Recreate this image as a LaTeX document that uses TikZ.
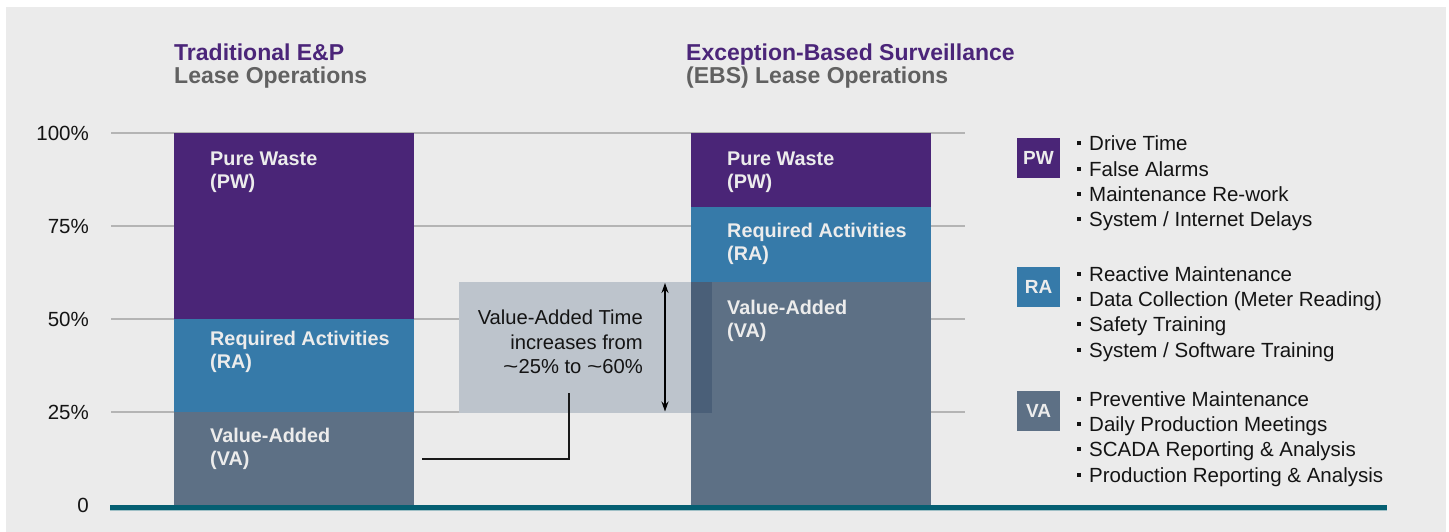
\documentclass[tikz,border=0pt]{standalone}
\usepackage{fontspec}
\setmainfont{Liberation Sans}
\usetikzlibrary{arrows.meta}
\definecolor{bgc}{HTML}{EBEBEB}
\definecolor{pwc}{HTML}{4A2577}
\definecolor{rac}{HTML}{367AA9}
\definecolor{vac}{HTML}{5D7085}
\definecolor{boxc}{HTML}{BDC4CC}
\definecolor{overc}{HTML}{4A5F78}
\definecolor{tealc}{HTML}{055F72}
\definecolor{tealpale}{HTML}{9FC0C6}
\definecolor{gridc}{HTML}{B4B4B4}
\definecolor{titp}{HTML}{4B2579}
\definecolor{titg}{HTML}{616161}
\definecolor{lblc}{HTML}{ECECEC}
\definecolor{txtc}{HTML}{141414}
\newcommand\blt{\rule[5.5pt]{4pt}{4pt}\hspace{8pt}}
\newcommand\wtilde{\scalebox{1.3}[1]{\textasciitilde}}
\tikzset{
  gridline/.style={draw=gridc, line width=1.5pt},
  titlelbl/.style={anchor=base west, align=left, inner sep=0pt, font=\bfseries\fontsize{23}{23.3}\selectfont},
  barlbl/.style={anchor=base west, align=left, inner sep=0pt, text=lblc, font=\bfseries\fontsize{19.8}{23.5}\selectfont},
  axislbl/.style={anchor=base east, inner sep=0pt, text=txtc, font=\fontsize{20.5}{22}\selectfont},
  legbox/.style={minimum width=43pt, minimum height=40pt, inner sep=0pt, text=lblc, font=\bfseries\fontsize{19}{20}\selectfont},
  leglist/.style={anchor=base west, align=left, inner sep=0pt, text=txtc, font=\fontsize{20.5}{25.3}\selectfont},
  boxtxt/.style={anchor=base east, align=right, inner sep=0pt, text=txtc, font=\fontsize{20.2}{24.3}\selectfont},
  connector/.style={draw=black!90, line width=2pt},
  dblarrow/.style={draw=black, line width=1.3pt, {Stealth[length=10pt,width=7pt]}-{Stealth[length=10pt,width=7pt]}}
}
\begin{document}
\begin{tikzpicture}[x=1pt,y=-1pt]
\useasboundingbox (0,0) rectangle (1449,532);
\fill[white] (0,0) rectangle (1449,532);
\fill[bgc] (6,7) rectangle (1446,532);
% grid lines
\foreach \yy in {133,226,319,412} \draw[gridline] (111,\yy) -- (965,\yy);
% axis labels
\node[axislbl] (l100) at (89,140.5) {100\%};
\node[axislbl] (l75) at (89,233.5) {75\%};
\node[axislbl] (l50) at (89,326.5) {50\%};
\node[axislbl] (l25) at (89,419.5) {25\%};
\node[axislbl] (l0) at (89,512.5) {0};
% left bar
\fill[pwc] (174,133) rectangle (414,319);
\fill[rac] (174,319) rectangle (414,412);
\fill[vac] (174,412) rectangle (414,505);
% highlight box
\fill[boxc] (459,282) rectangle (691,412.5);
% right bar
\fill[pwc] (691,133) rectangle (931,207);
\fill[rac] (691,207) rectangle (931,282);
\fill[vac] (691,282) rectangle (931,505);
\fill[overc] (691,282) rectangle (712,412.5);
% baseline
\draw[tealc, line width=5pt] (110,507.5) -- (1387,507.5);
\draw[tealpale, line width=1pt] (110,510.5) -- (1387,510.5);
% titles (base anchor = last line)
\node[titlelbl] (t1) at (174,84) {\textcolor{titp}{Traditional E\&P}\\\textcolor{titg}{Lease Operations}};
\node[titlelbl] (t2) at (686,84) {\textcolor{titp}{Exception-Based Surveillance}\\\textcolor{titg}{(EBS) Lease Operations}};
% bar labels
\node[barlbl] (lpwl) at (210,189) {Pure Waste\\(PW)};
\node[barlbl] (lral) at (210,368.5) {Required Activities\\(RA)};
\node[barlbl] (lval) at (210,465.5) {Value-Added\\(VA)};
\node[barlbl] (lpwr) at (727,189) {Pure Waste\\(PW)};
\node[barlbl] (lrar) at (727,260.5) {Required Activities\\(RA)};
\node[barlbl] (lvar) at (727,337.5) {Value-Added\\(VA)};
% box text and arrows
\node[boxtxt] (vat) at (643,373.5) {Value-Added Time\\increases from\\\wtilde25\% to \wtilde60\%};
\coordinate (arrtop) at (665,283);
\coordinate (arrbot) at (665,411.5);
\draw[dblarrow] (arrtop) -- (arrbot);
\coordinate (cstart) at (422,458.5);
\coordinate (cend) at (568.5,393);
\draw[connector] (cstart) -| (cend);
% legend
\node[legbox, fill=pwc] (kpw) at (1038.5,158) {PW};
\node[legbox, fill=rac] (kra) at (1038.5,287) {RA};
\node[legbox, fill=vac] (kva) at (1038.5,411) {VA};
\node[leglist] (lstpw) at (1077,226.7) {\blt Drive Time\\\blt False Alarms\\\blt Maintenance Re-work\\\blt System / Internet Delays};
\node[leglist] (lstra) at (1077,357) {\blt Reactive Maintenance\\\blt Data Collection (Meter Reading)\\\blt Safety Training\\\blt System / Software Training};
\node[leglist] (lstva) at (1077,482) {\blt Preventive Maintenance\\\blt Daily Production Meetings\\\blt SCADA Reporting \& Analysis\\\blt Production Reporting \& Analysis};
\end{tikzpicture}
\end{document}
